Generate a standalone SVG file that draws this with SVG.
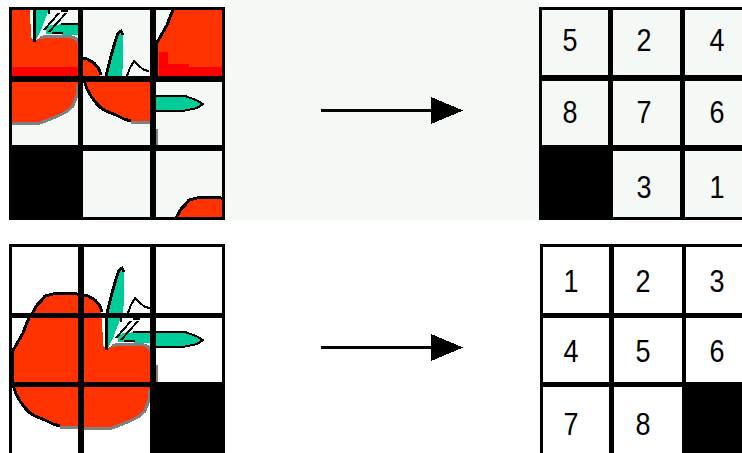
<svg xmlns="http://www.w3.org/2000/svg" xmlns:xlink="http://www.w3.org/1999/xlink" width="742" height="453" viewBox="0 0 742 453">
  <style>
    .frame{fill:#000}
    .mint{fill:#f4f9f5}
    .paper{fill:#fff}
    .red{fill:#ff3300}
    .hot{fill:#ff0000}
    .leaf{fill:#00cc99}
    .ink{fill:none;stroke:#000;stroke-width:3}
    .ink2{fill:none;stroke:#000;stroke-width:2}
    .shade{fill:none;stroke:#808080;stroke-width:3}
    .num{font-family:"Liberation Sans",Arial,sans-serif;font-size:32px;fill:#000;text-anchor:middle}
    .shaft{stroke:#000;stroke-width:3}
    .head{fill:#000}
    .px{shape-rendering:crispEdges}
  </style>
  <defs>
    <!-- the apple picture, drawn in the coordinates of the solved grid -->
    <g id="apple" class="px">
      <polygon class="red" points="33,312 37,305 42,300 45,296 57,292 72,292 88,296 95,300 100,306 102,318 103,345 106,349 112,346 118,344 140,344 147,346 151,350 155,360 157,383 150,390 149,400 145,410 138,416 130,420 120,424 112,427 95,429 85,428 78,426 60,426 53,424 45,420 35,416 30,413 25,408 20,401 16,394 13,385 11,375 11,352 15,347 19,340 23,333 26,325 29,318"/>
      <polyline class="ink" points="16,394 13,385 12,375 12,352 15,347 19,340 23,333 26,325 29,318 33,312 37,305 42,300 45,296 57,293 72,293 88,296 95,300 100,306 102,312"/>
      <polyline class="ink" points="16,394 20,401 25,408 30,413 35,416 45,420 53,424 60,426"/>
      <polyline class="shade" points="60,427 78,427 85,429 112,428 120,425 130,421 138,417 145,411 149,400 150,390"/>
      <polyline class="shade" points="156,365 157,383"/>
      <polyline class="shade" points="112,346 118,344 140,344 147,346 151,350 154,356"/>
      <!-- upright leaf -->
      <polygon class="leaf" points="108,348 108,318 110,306 114,290 118,274 121,269 124,273 124,300 123,313 118,325 113,338"/>
      <polyline class="ink" points="106,350 106,320 108,309 112,293 116,279 119,270 122,268 124,272"/>
      <!-- sideways leaf -->
      <polygon class="leaf" points="117,334 135,332 185,333 196,337 203,340 197,344 183,346 156,346 150,343 118,342"/>
      <polyline class="ink2" points="133,332 185,332 196,336 203,340 197,344 183,347 156,347"/>
      <line class="ink2" x1="124" y1="341" x2="135" y2="341"/>
      <!-- small white leaf and stems -->
      <polyline class="ink2" points="128,313 131,305 135,298 140,303 145,307 150,308"/>
      <line class="ink2" x1="121" y1="318" x2="121" y2="322"/>
      <line class="ink2" x1="131" y1="321" x2="116" y2="338"/>
      <line class="ink2" x1="138" y1="321" x2="121" y2="340"/>
      <line class="ink2" x1="133" y1="319" x2="140" y2="319"/>
    </g>
    <clipPath id="t00"><rect x="12" y="10" width="66" height="66"/></clipPath>
    <clipPath id="t01"><rect x="83" y="10" width="67" height="66"/></clipPath>
    <clipPath id="t02"><rect x="156" y="10" width="66" height="66"/></clipPath>
    <clipPath id="t10"><rect x="12" y="82" width="66" height="63"/></clipPath>
    <clipPath id="t11"><rect x="83" y="82" width="67" height="63"/></clipPath>
    <clipPath id="t12"><rect x="156" y="82" width="66" height="63"/></clipPath>
    <clipPath id="t22"><rect x="156" y="151" width="66" height="66"/></clipPath>
  </defs>

  <rect x="0" y="0" width="742" height="453" fill="#fff"/>
  <rect class="mint px" x="225" y="0" width="314" height="220"/>

  <!-- scrambled picture puzzle -->
  <g id="picture-scrambled" class="px">
    <rect class="frame" x="9" y="7" width="216" height="213"/>
    <rect class="mint" x="12" y="10" width="66" height="66"/>
    <rect class="mint" x="83" y="10" width="67" height="66"/>
    <rect class="mint" x="156" y="10" width="66" height="66"/>
    <rect class="mint" x="12" y="82" width="66" height="63"/>
    <rect class="mint" x="83" y="82" width="67" height="63"/>
    <rect class="mint" x="156" y="82" width="66" height="63"/>
    <rect class="mint" x="83" y="151" width="67" height="66"/>
    <rect class="mint" x="156" y="151" width="66" height="66"/>
    <g clip-path="url(#t00)"><use xlink:href="#apple" transform="translate(-72,-308)"/><rect class="hot" x="12" y="67" width="66" height="9"/></g>
    <g clip-path="url(#t01)"><use xlink:href="#apple" transform="translate(-1,-237)"/></g>
    <g clip-path="url(#t02)"><use xlink:href="#apple" transform="translate(144,-308)"/><rect class="hot" x="159" y="52" width="9" height="24"/><rect class="hot" x="168" y="64" width="21" height="12"/><rect class="hot" x="189" y="67" width="33" height="9"/></g>
    <g clip-path="url(#t10)"><use xlink:href="#apple" transform="translate(-72,-305)"/></g>
    <g clip-path="url(#t11)"><use xlink:href="#apple" transform="translate(71,-305)"/></g>
    <g clip-path="url(#t12)"><use xlink:href="#apple" transform="translate(0,-236)"/></g>
    <g clip-path="url(#t22)"><use xlink:href="#apple" transform="translate(144,-96)"/></g>
  </g>

  <!-- scrambled number puzzle -->
  <g id="numbers-scrambled" class="px">
    <rect class="frame" x="539" y="7" width="203" height="213"/>
    <rect class="mint" x="542" y="10" width="66" height="65"/>
    <rect class="mint" x="613" y="10" width="67" height="65"/>
    <rect class="mint" x="685" y="10" width="57" height="65"/>
    <rect class="mint" x="542" y="81" width="66" height="64"/>
    <rect class="mint" x="613" y="81" width="67" height="64"/>
    <rect class="mint" x="685" y="81" width="57" height="64"/>
    <rect class="mint" x="613" y="151" width="67" height="66"/>
    <rect class="mint" x="685" y="151" width="57" height="66"/>
  </g>
  <g id="numbers-scrambled-labels">
    <text class="num" x="570" y="51" textLength="15" lengthAdjust="spacingAndGlyphs">5</text>
    <text class="num" x="644" y="51" textLength="15" lengthAdjust="spacingAndGlyphs">2</text>
    <text class="num" x="717" y="51" textLength="15" lengthAdjust="spacingAndGlyphs">4</text>
    <text class="num" x="570" y="123" textLength="15" lengthAdjust="spacingAndGlyphs">8</text>
    <text class="num" x="644" y="123" textLength="15" lengthAdjust="spacingAndGlyphs">7</text>
    <text class="num" x="717" y="123" textLength="15" lengthAdjust="spacingAndGlyphs">6</text>
    <text class="num" x="644" y="198" textLength="15" lengthAdjust="spacingAndGlyphs">3</text>
    <text class="num" x="717" y="198" textLength="15" lengthAdjust="spacingAndGlyphs">1</text>
  </g>

  <!-- solved picture puzzle -->
  <g id="picture-solved" class="px">
    <rect class="paper" x="12" y="247" width="210" height="206"/>
    <use xlink:href="#apple"/>
    <rect class="frame" x="9" y="244" width="216" height="3"/>
    <rect class="frame" x="9" y="244" width="3" height="209"/>
    <rect class="frame" x="222" y="244" width="3" height="209"/>
    <rect class="frame" x="78" y="244" width="6" height="209"/>
    <rect class="frame" x="150" y="244" width="6" height="209"/>
    <rect class="frame" x="9" y="313" width="216" height="5"/>
    <rect class="frame" x="9" y="382" width="216" height="5"/>
    <rect class="frame" x="150" y="382" width="75" height="71"/>
  </g>

  <!-- solved number puzzle -->
  <g id="numbers-solved" class="px">
    <rect class="frame" x="540" y="244" width="202" height="209"/>
    <rect class="paper" x="543" y="247" width="66" height="66"/>
    <rect class="paper" x="614" y="247" width="68" height="66"/>
    <rect class="paper" x="686" y="247" width="56" height="66"/>
    <rect class="paper" x="543" y="318" width="66" height="64"/>
    <rect class="paper" x="614" y="318" width="68" height="64"/>
    <rect class="paper" x="686" y="318" width="56" height="64"/>
    <rect class="paper" x="543" y="387" width="66" height="66"/>
    <rect class="paper" x="614" y="387" width="68" height="66"/>
  </g>
  <g id="numbers-solved-labels">
    <text class="num" x="571" y="292" textLength="15" lengthAdjust="spacingAndGlyphs">1</text>
    <text class="num" x="643" y="292" textLength="15" lengthAdjust="spacingAndGlyphs">2</text>
    <text class="num" x="717" y="292" textLength="15" lengthAdjust="spacingAndGlyphs">3</text>
    <text class="num" x="571" y="362" textLength="15" lengthAdjust="spacingAndGlyphs">4</text>
    <text class="num" x="643" y="362" textLength="15" lengthAdjust="spacingAndGlyphs">5</text>
    <text class="num" x="717" y="362" textLength="15" lengthAdjust="spacingAndGlyphs">6</text>
    <text class="num" x="571" y="435" textLength="15" lengthAdjust="spacingAndGlyphs">7</text>
    <text class="num" x="643" y="435" textLength="15" lengthAdjust="spacingAndGlyphs">8</text>
  </g>

  <!-- arrows -->
  <g id="connectors" class="px">
    <line class="shaft" x1="321" y1="110.5" x2="440" y2="110.5"/>
    <polygon class="head" points="431,97 463,110.5 431,124"/>
    <line class="shaft" x1="321" y1="347.5" x2="440" y2="347.5"/>
    <polygon class="head" points="431,334 463,347.5 431,361"/>
  </g>
</svg>
